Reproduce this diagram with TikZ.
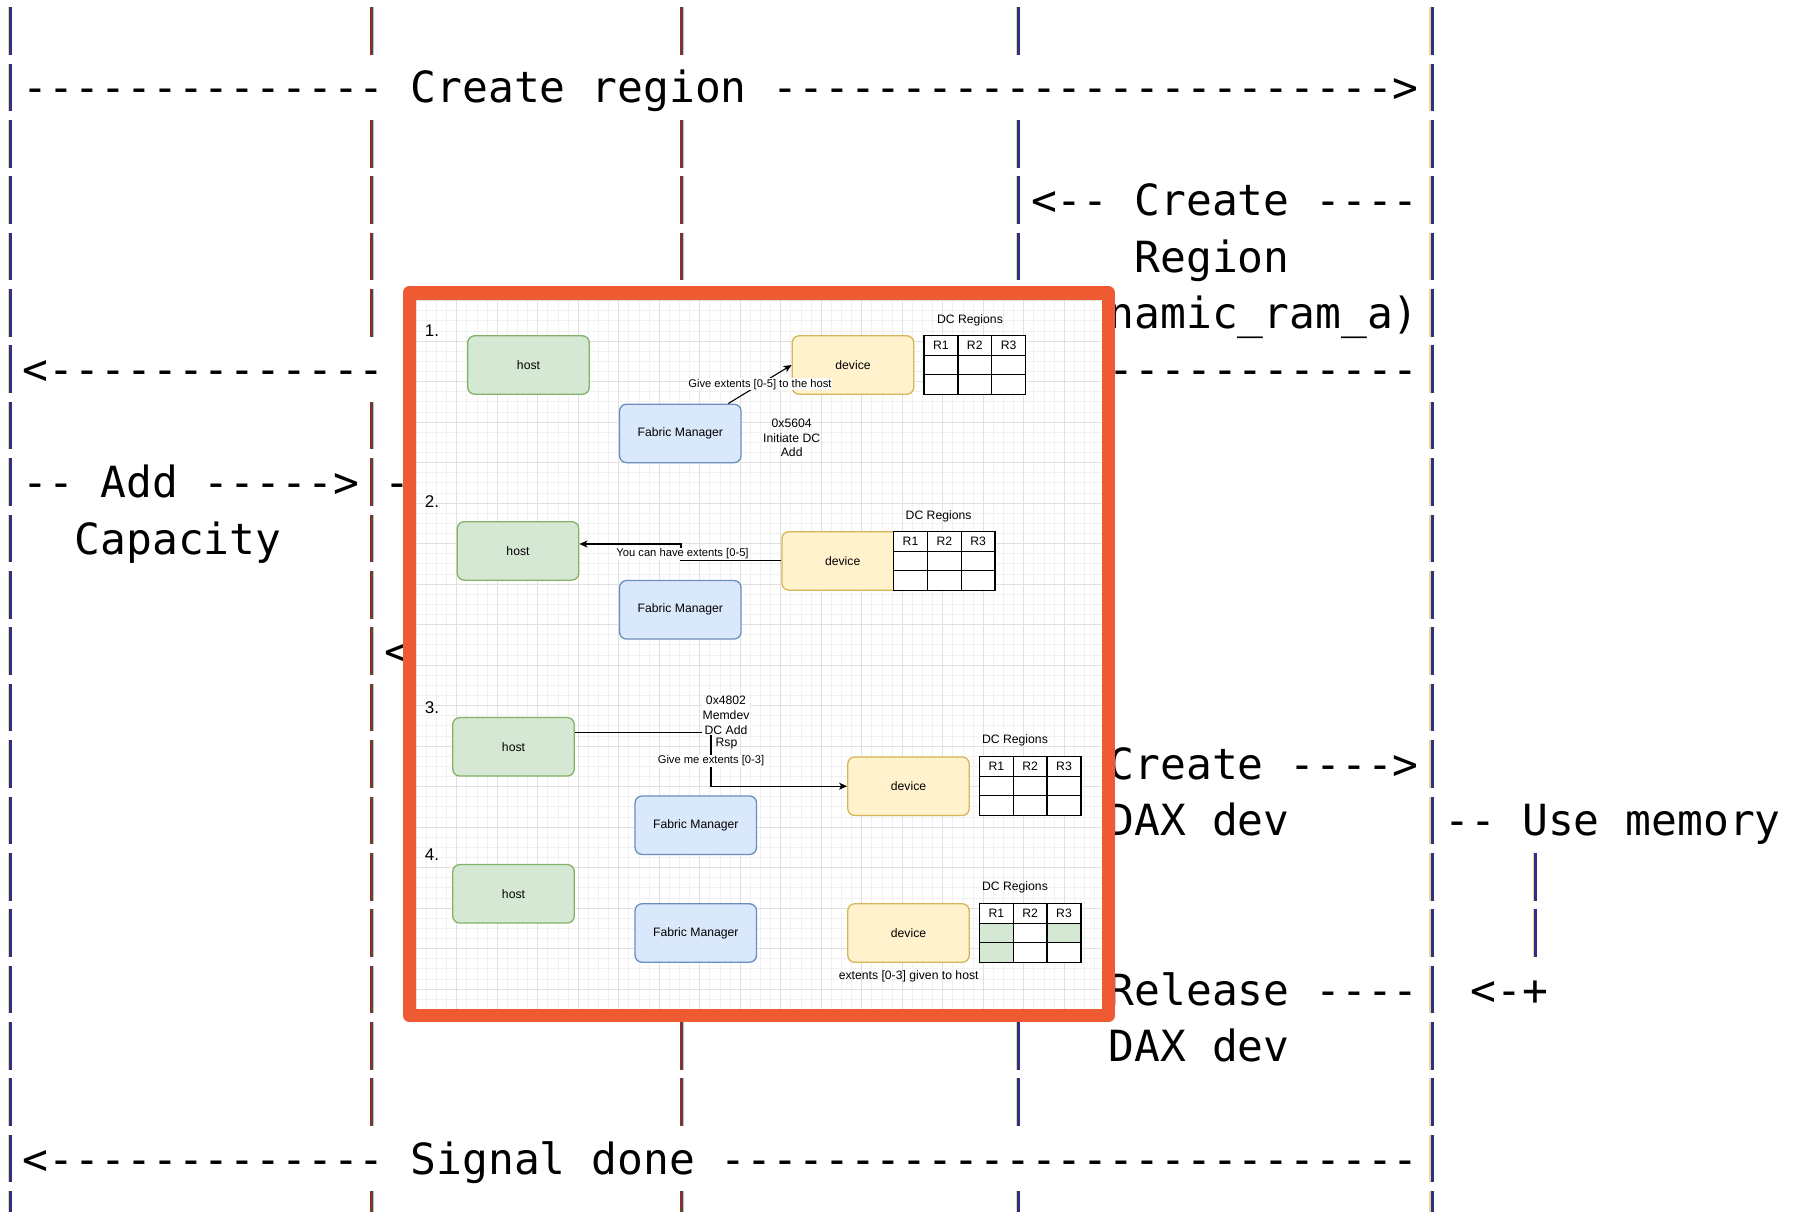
\documentclass[tikz,border=0pt]{standalone}
\usepackage{fontspec}
\setmonofont{DejaVu Sans Mono}
\newfontfamily\drawfont{Liberation Sans}
\usetikzlibrary{arrows.meta}

\definecolor{frameorange}{RGB}{238,91,50}
\definecolor{hostfill}{HTML}{D5E8D4}
\definecolor{hostline}{HTML}{82B366}
\definecolor{devfill}{HTML}{FFF2CC}
\definecolor{devline}{HTML}{D6B656}
\definecolor{fmfill}{HTML}{DAE8FC}
\definecolor{fmline}{HTML}{6C8EBF}
\definecolor{barnavy}{HTML}{29328A}
\definecolor{baryellow}{HTML}{F3D58C}
\definecolor{barbrown}{HTML}{86331F}
\definecolor{barblue}{HTML}{8ED3F7}
\definecolor{gridminor}{HTML}{F1F1F1}
\definecolor{gridmajor}{HTML}{E0E0E0}

\tikzset{
  ascii/.style={anchor=base west, inner sep=0pt, outer sep=0pt, font=\ttfamily\fontsize{42.94}{50}\selectfont},
  box/.style={rounded corners=7pt, line width=1.3pt, minimum width=121.5pt, minimum height=58.5pt, inner sep=0pt, font=\drawfont\fontsize{12.2}{14.5}\selectfont},
  hostbox/.style={box, draw=hostline, fill=hostfill},
  devbox/.style={box, draw=devline, fill=devfill},
  fmbox/.style={box, draw=fmline, fill=fmfill},
  dtext/.style={inner sep=0pt, align=center, font=\drawfont\fontsize{12.2}{14.8}\selectfont},
  elabel/.style={fill=white, inner sep=0.6pt, font=\drawfont\fontsize{11.2}{13}\selectfont},
  stepnum/.style={inner sep=0pt, font=\drawfont\fontsize{17}{20}\selectfont},
  msg/.style={line width=1.1pt, -{Stealth[length=8pt, width=7pt, inset=2pt]}},
  tabline/.style={line width=1.4pt}
}

\newcommand\colw{25.85}
\newcommand\rowh{56.38}
\newcommand\asciitext[4]{\node[ascii] (#1) at ({10+\colw*#2-\colw/2},{31+\rowh*#3+15.6}) {#4};}
\newcommand\navybar[2]{%
  \draw[baryellow, line width=1.6pt] ({10+\colw*#1-1.7},{31+\rowh*#2-23.8}) -- ++(0,47.6);
  \draw[barnavy, line width=2.8pt] ({10+\colw*#1+0.5},{31+\rowh*#2-23.8}) -- ++(0,47.6);}
\newcommand\brownbar[2]{%
  \draw[barbrown, line width=2.8pt] ({10+\colw*#1-0.7},{31+\rowh*#2-23.8}) -- ++(0,47.6);
  \draw[barblue, line width=1.6pt] ({10+\colw*#1+1.5},{31+\rowh*#2-23.8}) -- ++(0,47.6);}
\newcommand\dctable[6]{%
  \node[dtext] (#1lbl) at (#4,#5) {DC Regions};
  \fill[white] (#2,#3) rectangle ++(101.5,58.5);
  #6
  \draw[tabline] (#2,#3) rectangle ++(101.5,58.5);
  \draw[tabline] ({#2+33.8},#3) -- ++(0,58.5) ({#2+67.7},#3) -- ++(0,58.5)
    (#2,{#3+19.5}) -- ++(101.5,0) (#2,{#3+39}) -- ++(101.5,0);
  \node[dtext] (#1ra) at ({#2+16.9},{#3+10}) {R1};
  \node[dtext] (#1rb) at ({#2+50.75},{#3+10}) {R2};
  \node[dtext] (#1rc) at ({#2+84.6},{#3+10}) {R3};}

\begin{document}
\begin{tikzpicture}[x=1pt, y=-1pt]
\useasboundingbox (0,0) rectangle (1793,1211);
\fill[white] (0,0) rectangle (1793,1211);

\foreach \c/\rows in {0/{0,...,21}, 55/{0,...,21}, 39/{0,2,3,4,18,19,21}, 59/{15,16}} {
  \foreach \r in \rows {\navybar{\c}{\r}}
}
\foreach \c/\rows in {14/{0,2,3,4,5,7,8,9,10,11,12,13,14,15,16,17,18,19,21}, 26/{0,2,3,4,18,19,21}} {
  \foreach \r in \rows {\brownbar{\c}{\r}}
}

\asciitext{createa}{1}{1}{--------------}
\asciitext{createb}{16}{1}{Create region}
\asciitext{createc}{30}{1}{------------------------>}
\asciitext{regiona}{40}{3}{<-- Create ----}
\asciitext{regionb}{44}{4}{Region}
\asciitext{regionc}{43}{5}{namic\_ram\_a)}
\asciitext{backa}{1}{6}{<-------------}
\asciitext{backb}{43}{6}{------------}
\asciitext{adda}{1}{8}{-- Add ----->}
\asciitext{addb}{15}{8}{-}
\asciitext{addc}{3}{9}{Capacity}
\asciitext{addd}{15}{11}{<}
\asciitext{daxa}{43}{13}{Create ---->}
\asciitext{daxb}{43}{14}{DAX dev}
\asciitext{usemem}{56}{14}{-- Use memory}
\asciitext{relea}{43}{17}{Release ----}
\asciitext{releb}{57}{17}{<-+}
\asciitext{relec}{43}{18}{DAX dev}
\asciitext{signal}{1}{20}{<------------- Signal done ---------------------------}

\fill[white] (409,293) rectangle (1108,1015);
\begin{scope}
  \clip (416,300) rectangle (1101.5,1008.5);
  \foreach \m in {0,...,67} \draw[gridminor, line width=1pt] ({416.3+10.125*\m},300) -- ++(0,708.5);
  \foreach \m in {0,...,69} \draw[gridminor, line width=1pt] (416,{300.7+10.125*\m}) -- ++(685.5,0);
  \foreach \m in {0,...,16} \draw[gridmajor, line width=1.1pt] ({416.3+40.5*\m},300) -- ++(0,708.5);
  \foreach \m in {0,...,17} \draw[gridmajor, line width=1.1pt] (416,{300.7+40.5*\m}) -- ++(685.5,0);
\end{scope}
\draw[frameorange, line width=13.5pt, line join=round] (409.25,292.75) rectangle (1108.25,1015.25);

\node[stepnum] (num1) at (432,331) {1.};
\node[hostbox] (host1) at (528.5,365) {host};
\node[devbox] (dev1) at (853,365) {device};
\node[fmbox] (fm1) at (680.3,433.4) {Fabric Manager};
\dctable{t1}{924}{335.7}{970}{320}{}
\draw[msg] ([xshift=48pt]fm1.north) -- (dev1.west) node[elabel, pos=0.5] (give1) {Give extents [0-5] to the host};
\node[dtext] (cmd1) at (791.7,437.8) {0x5604\\Initiate DC\\Add};

\node[stepnum] (num2) at (432,502) {2.};
\node[hostbox] (host2) at (518,550.9) {host};
\node[devbox] (dev2) at (842.7,560.9) {device};
\node[fmbox] (fm2) at (680.3,609.8) {Fabric Manager};
\dctable{t2}{893.6}{531.7}{938.6}{516}{}
\coordinate (bend2) at (681,544);
\draw[msg] (dev2.west) -| (bend2) -- ([yshift=6.9pt]host2.east);
\node[elabel] (give2) at (682.5,554) {You can have extents [0-5]};

\node[stepnum] (num3) at (432,708) {3.};
\node[hostbox] (host3) at (513.5,746.8) {host};
\node[devbox] (dev3) at (908.5,786.2) {device};
\node[fmbox] (fm3) at (695.8,825.2) {Fabric Manager};
\dctable{t3}{979.4}{756.7}{1015}{740}{}
\coordinate (bend3) at (711,786.2);
\draw[msg] ([yshift=14.5pt]host3.east) -| (bend3) -- (dev3.west);
\node[dtext, fill=white, inner sep=0.5pt] (cmd3) at (726,715.5) {0x4802\\Memdev\\DC Add};
\node[dtext] (rsp3) at (726.5,744) {Rsp};
\node[elabel] (give3) at (711,761) {Give me extents [0-3]};

\node[stepnum] (num4) at (432,855) {4.};
\node[hostbox] (host4) at (513.5,893.8) {host};
\node[fmbox] (fm4) at (695.8,933) {Fabric Manager};
\node[devbox] (dev4) at (908.5,933) {device};
\dctable{t4}{979.4}{903.7}{1015}{887}{%
  \fill[hostfill] (979.4,923.2) rectangle (1013.2,962.2);
  \fill[hostfill] (1047.1,923.2) rectangle (1080.9,942.7);}
\node[dtext] (given4) at (908.7,976.7) {extents [0-3] given to host};
\end{tikzpicture}
\end{document}
